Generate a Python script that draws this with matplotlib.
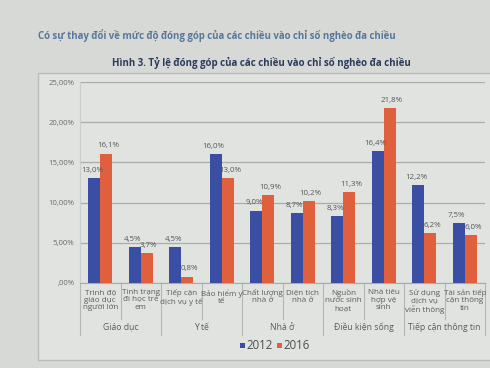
import matplotlib
matplotlib.use("Agg")
import matplotlib.pyplot as plt
from matplotlib.patches import Rectangle
from matplotlib.lines import Line2D

plt.rcParams['font.family'] = ['Open Sans', 'DejaVu Sans']

categories = ["Trình độ\ngiáo dục\nngười lớn", "Tình trạng\nđi học trẻ\nem",
              "Tiếp cận\ndịch vụ y tế", "Bảo hiểm y\ntế", "Chất lượng\nnhà ở",
              "Diện tích\nnhà ở", "Nguồn\nnước sinh\nhoạt", "Nhà tiêu\nhợp vệ\nsinh",
              "Sử dụng\ndịch vụ\nviễn thông", "Tài sản tiếp\ncận thông\ntin"]
groups = ["Giáo dục", "Y tế", "Nhà ở", "Điều kiện sống", "Tiếp cận thông tin"]
group_sizes = [2, 2, 2, 2, 2]
v2012 = [13.0, 4.5, 4.5, 16.0, 9.0, 8.7, 8.3, 16.4, 12.2, 7.5]
v2016 = [16.1, 3.7, 0.8, 13.0, 10.9, 10.2, 11.3, 21.8, 6.2, 6.0]
yticks = [0, 5, 10, 15, 20, 25]
ytick_labels = [",00%", "5,00%", "10,00%", "15,00%", "20,00%", "25,00%"]
series_names = ["2012", "2016"]

W, H = 490, 368
fig = plt.figure(figsize=(W/100, H/100), dpi=100)
fig.patch.set_facecolor("#d6d9d6")

def fx(px):
    return px / W
def fy(py):
    return 1 - py / H

frame = Rectangle((fx(38), fy(360)), fx(500) - fx(38), fy(73) - fy(360),
                  transform=fig.transFigure, facecolor="#e1e3e0",
                  edgecolor="#b8bbb8", linewidth=1.0, zorder=-5)
fig.patches.append(frame)

ax = fig.add_axes([fx(80), fy(283), fx(485) - fx(80), fy(82) - fy(283)])
ax.set_zorder(2)
ax.set_facecolor("none")
n = len(categories)
x = list(range(n))
bw = 0.3
blue = "#3a4ea3"
orange = "#e0603e"
ax.bar([i - bw/2 for i in x], v2012, width=bw, color=blue, zorder=3)
ax.bar([i + bw/2 for i in x], v2016, width=bw, color=orange, zorder=3)
ax.set_xlim(-0.5, n - 0.5)
ax.set_ylim(0, 25)
ax.set_yticks(yticks)
ax.set_yticklabels(ytick_labels, fontsize=5.6, color="#6a6d6a")
ax.set_xticks([])
ax.tick_params(axis='y', length=0, pad=4)
ax.grid(axis='y', color="#a9aca9", linewidth=0.9, zorder=0)
for s in ["top", "right"]:
    ax.spines[s].set_visible(False)
ax.spines["left"].set_color("#cbcecb")
ax.spines["bottom"].set_color("#a9aca9")

def fmt(v):
    return f"{v:.1f}%".replace(".", ",")

for i in x:
    ax.annotate(fmt(v2012[i]), (i - bw/2 - 0.05, v2012[i]), xytext=(0, 3),
                textcoords="offset points", ha="center", va="bottom",
                fontsize=5.7, color="#555855")
    ax.annotate(fmt(v2016[i]), (i + bw/2 + 0.05, v2016[i]), xytext=(0, 3),
                textcoords="offset points", ha="center", va="bottom",
                fontsize=5.7, color="#555855")

trans = ax.get_xaxis_transform()
axh = fy(82) - fy(283)
def ay(py):
    return (fy(py) - fy(283)) / axh

for i, c in enumerate(categories):
    ax.text(i, ay(289), c, transform=trans, ha="center", va="top",
            fontsize=5.8, color="#5a5d5a", linespacing=1.1, clip_on=False)

boundaries = []
pos = 0
for gs in group_sizes:
    pos += gs
    boundaries.append(pos)
group_bounds = set([0] + boundaries)
for b in range(0, n + 1):
    xb = b - 0.5
    end = 335 if b in group_bounds else 319
    ax.add_line(Line2D([xb, xb], [0, ay(end)], transform=trans, color="#b4b7b4",
                       linewidth=0.8, clip_on=False))

start = 0
for g, gs in zip(groups, group_sizes):
    cx = start + (gs - 1) / 2
    ax.text(cx, ay(327), g, transform=trans, ha="center", va="center",
            fontsize=6.2, color="#5a5d5a", clip_on=False)
    start += gs

fig.patches.append(Rectangle((fx(240), fy(348)), fx(245) - fx(240), fy(343) - fy(348),
                             transform=fig.transFigure, facecolor=blue, edgecolor="none"))
fig.text(fx(246), fy(345.5), series_names[0], fontsize=8.3, color="#4a4d4a", va="center")
fig.patches.append(Rectangle((fx(277), fy(348)), fx(282) - fx(277), fy(343) - fy(348),
                             transform=fig.transFigure, facecolor=orange, edgecolor="none"))
fig.text(fx(283), fy(345.5), series_names[1], fontsize=8.3, color="#4a4d4a", va="center")

fig.text(fx(38), fy(35), "Có sự thay đổi về mức độ đóng góp của các chiều vào chỉ số nghèo đa chiều",
         fontsize=6.9, fontweight="bold", color="#5a7698", va="center")
fig.text(fx(112), fy(63), "Hình 3. Tỷ lệ đóng góp của các chiều vào chỉ số nghèo đa chiều",
         fontsize=7.0, fontweight="bold", color="#2c3b5c", va="center")

fig.savefig("out.png", dpi=100, facecolor=fig.get_facecolor())
